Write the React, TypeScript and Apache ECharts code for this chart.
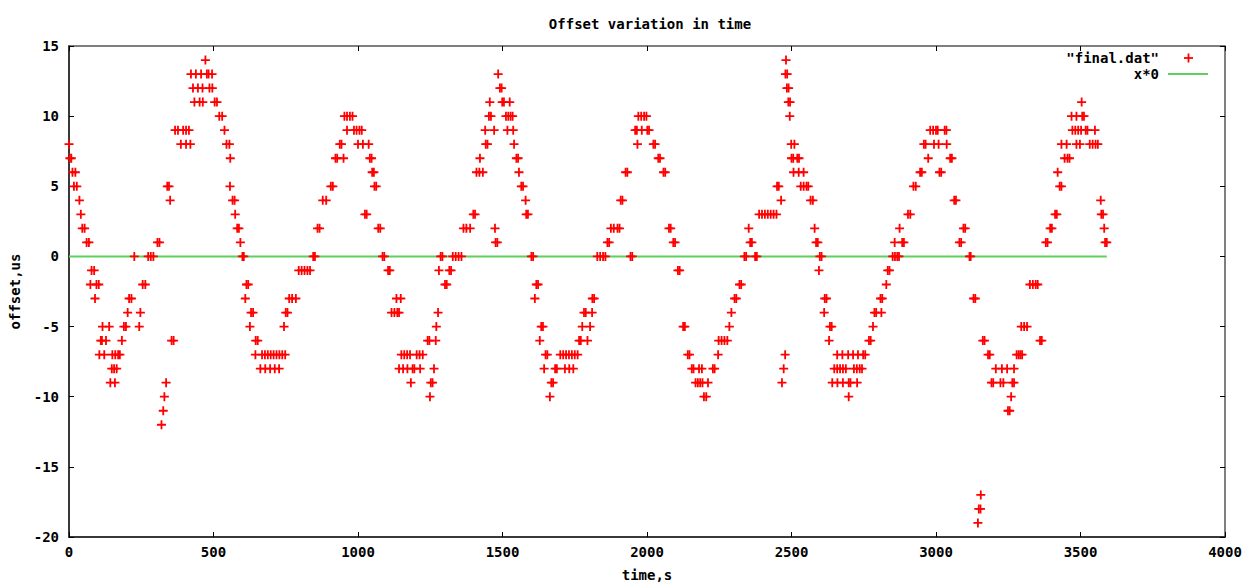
import { useEffect, useRef } from "react";
import * as echarts from "echarts";

type Pt = [number, number];

// "final.dat": [time s, offset us]
const seg0to600: Pt[] = [
  [0, 8], [3, 7], [8, 7], [12, 6], [22, 6], [17, 5], [27, 5], [36, 4], [41, 3], [46, 2], [54, 2], [61, 1], [69, 1],
  [74, -2], [78, -1], [87, -1], [90, -3], [95, -2], [103, -2], [105, -7], [110, -6], [114, -6], [116, -5], [122, -7],
  [128, -6], [139, -5], [143, -9], [148, -8], [150, -7], [156, -8], [159, -9], [160, -7], [165, -8], [170, -7], [176, -7],
  [183, -6], [190, -5], [197, -5], [203, -4], [208, -3], [216, -3], [226, 0], [243, -5], [247, -4], [255, -2], [264, -2],
  [274, 0], [283, 0], [292, 0], [306, 1], [313, 1], [320, -12], [326, -11], [330, -10], [336, -9], [340, 5], [346, 5],
  [350, 4], [355, -6], [362, -6], [367, 9], [377, 9], [395, 9], [405, 9], [415, 9], [387, 8], [405, 8], [420, 8],
  [422, 13], [439, 13], [457, 13], [477, 13], [483, 13], [495, 13], [429, 12], [446, 12], [462, 12], [486, 12], [496, 12],
  [434, 11], [452, 11], [463, 11], [504, 11], [512, 11], [472, 14], [520, 10], [530, 10], [538, 9], [545, 8], [555, 8],
  [558, 7], [557, 5], [566, 4], [573, 4], [575, 3], [582, 2], [588, 2], [593, 1],
];

const seg600to1200: Pt[] = [
  [600, 0], [605, 0], [610, -3], [614, -2], [620, -2], [626, -5], [630, -4], [637, -4], [645, -7], [646, -6], [653, -6],
  [668, -7], [678, -7], [688, -7], [698, -7], [708, -7], [718, -7], [728, -7], [738, -7], [748, -7],
  [662, -8], [679, -8], [696, -8], [712, -8], [727, -8], [744, -5], [750, -4], [756, -4], [762, -3], [772, -3], [785, -3],
  [795, -1], [805, -1], [815, -1], [825, -1], [834, -1], [845, 0], [851, 0], [860, 2], [867, 2], [878, 4], [890, 4],
  [906, 5], [913, 5], [922, 7], [928, 7], [937, 8], [943, 8], [950, 7], [953, 10], [962, 10], [972, 10], [981, 10],
  [962, 9], [986, 9], [995, 9], [1005, 9], [1013, 9], [1000, 8], [1017, 8], [1037, 8], [1024, 3], [1030, 3], [1041, 7],
  [1047, 7], [1049, 6], [1055, 6], [1057, 5], [1063, 5], [1070, 2], [1077, 2], [1085, 0], [1091, 0], [1104, -1], [1110, -1],
  [1116, -4], [1126, -4], [1136, -4], [1142, -4], [1133, -3], [1148, -3], [1142, -8], [1156, -8], [1171, -8],
  [1150, -7], [1160, -7], [1170, -7], [1180, -7], [1183, -9], [1189, -8], [1195, -8],
];

const seg1200to1800: Pt[] = [
  [1203, -7], [1213, -7], [1224, -7], [1215, -8], [1241, -6], [1247, -6], [1249, -10], [1252, -9], [1258, -9], [1263, -8],
  [1269, -6], [1271, -5], [1277, -4], [1280, -1], [1286, 0], [1292, 0], [1301, -2], [1307, -2], [1316, -1], [1322, -1],
  [1328, 0], [1338, 0], [1348, 0], [1358, 0], [1365, 2], [1375, 2], [1388, 2], [1399, 3], [1405, 3], [1410, 6], [1420, 6],
  [1432, 6], [1422, 7], [1440, 9], [1442, 8], [1448, 8], [1453, 10], [1460, 10], [1456, 11], [1471, 9], [1474, 2],
  [1476, 1], [1482, 1], [1485, 13], [1491, 12], [1497, 12], [1499, 11], [1505, 11], [1512, 10], [1520, 10], [1528, 10],
  [1535, 10], [1517, 9], [1537, 9], [1525, 11], [1540, 8], [1548, 7], [1554, 7], [1557, 6], [1565, 5], [1571, 5],
  [1580, 4], [1582, 3], [1588, 3], [1600, 0], [1606, 0], [1612, -3], [1617, -2], [1623, -2], [1629, -6], [1634, -5],
  [1640, -5], [1644, -8], [1649, -7], [1655, -7], [1664, -10], [1669, -9], [1675, -9], [1682, -8], [1688, -8],
  [1700, -7], [1710, -7], [1720, -7], [1730, -7], [1740, -7], [1750, -7], [1760, -7], [1716, -8], [1731, -8], [1745, -8],
  [1765, -6], [1771, -6], [1776, -5], [1782, -4], [1788, -4], [1794, -6], [1803, -5], [1810, -4], [1811, -3], [1817, -3],
];

const seg1800to2400: Pt[] = [
  [1828, 0], [1838, 0], [1848, 0], [1856, 0], [1863, 1], [1869, 1], [1875, 2], [1885, 2], [1898, 2], [1905, 2], [1909, 4],
  [1915, 4], [1926, 6], [1932, 6], [1943, 0], [1949, 0], [1959, 9], [1965, 9], [1967, 8], [1970, 10], [1980, 10],
  [1990, 10], [1998, 10], [1982, 9], [2001, 9], [2007, 9], [2022, 8], [2028, 8], [2039, 7], [2045, 7], [2057, 6],
  [2063, 6], [2076, 2], [2082, 2], [2091, 1], [2097, 1], [2107, -1], [2113, -1], [2125, -5], [2131, -5], [2141, -7],
  [2147, -7], [2155, -8], [2161, -8], [2180, -8], [2190, -8], [2168, -9], [2176, -9], [2184, -9], [2192, -9],
  [2197, -10], [2205, -10], [2211, -9], [2228, -8], [2234, -8], [2246, -7], [2248, -6], [2258, -6], [2268, -6],
  [2278, -6], [2285, -5], [2292, -4], [2303, -3], [2309, -3], [2320, -2], [2326, -2], [2337, 0], [2343, 0], [2352, 2],
  [2357, 1], [2363, 1], [2374, 0], [2380, 0], [2388, 3], [2398, 3],
];

const seg2400to3000: Pt[] = [
  [2408, 3], [2418, 3], [2428, 3], [2438, 3], [2448, 3], [2450, 5], [2456, 5], [2464, 4], [2467, -9], [2473, -8],
  [2478, -7], [2481, 14], [2479, 13], [2485, 13], [2484, 12], [2490, 12], [2489, 11], [2495, 11], [2494, 10], [2499, 8],
  [2510, 8], [2500, 7], [2506, 7], [2520, 7], [2526, 7], [2507, 6], [2525, 6], [2542, 6], [2532, 5], [2542, 5],
  [2552, 5], [2558, 5], [2566, 4], [2574, 4], [2580, 2], [2585, 1], [2591, 1], [2595, -1], [2598, 0], [2604, 0],
  [2613, -4], [2615, -3], [2621, -3], [2630, -6], [2633, -5], [2639, -5], [2641, -9], [2659, -9], [2678, -9],
  [2648, -8], [2658, -8], [2668, -8], [2678, -8], [2688, -8], [2658, -7], [2676, -7], [2696, -7], [2713, -7], [2730, -7],
  [2698, -10], [2698, -9], [2704, -9], [2727, -9], [2716, -8], [2726, -8], [2736, -8], [2744, -8], [2748, -7], [2755, -7],
  [2768, -6], [2774, -6], [2782, -5], [2787, -4], [2793, -4], [2808, -3], [2814, -3], [2811, -4], [2828, -2], [2833, -1],
  [2839, -1], [2850, 0], [2858, 0], [2866, 0], [2872, 0], [2857, 1], [2874, 2], [2883, 1], [2889, 1], [2903, 3],
  [2911, 3], [2922, 5], [2930, 5], [2945, 6], [2951, 6], [2958, 8], [2964, 8], [2973, 7], [2980, 9], [2990, 9],
  [3000, 9], [3006, 9],
];

const seg3000to3600: Pt[] = [
  [2993, 8], [3009, 8], [3037, 8], [3012, 6], [3018, 6], [3030, 9], [3036, 9], [3049, 7], [3055, 7], [3063, 4], [3069, 4],
  [3081, 1], [3087, 1], [3095, 2], [3101, 2], [3116, 0], [3120, 0], [3130, -3], [3136, -3], [3145, -19], [3148, -18],
  [3154, -18], [3155, -17], [3162, -6], [3168, -6], [3180, -7], [3186, -7], [3192, -9], [3198, -9], [3207, -8],
  [3228, -8], [3246, -8], [3270, -8], [3223, -9], [3233, -9], [3249, -11], [3255, -11], [3260, -10], [3264, -9],
  [3270, -9], [3279, -7], [3286, -7], [3292, -7], [3298, -7], [3295, -5], [3305, -5], [3315, -5], [3325, -2], [3335, -2],
  [3345, -2], [3352, -2], [3360, -6], [3366, -6], [3380, 1], [3386, 1], [3395, 2], [3401, 2], [3412, 3], [3418, 3],
  [3421, 6], [3428, 5], [3434, 5], [3434, 8], [3452, 8], [3486, 8], [3498, 8], [3445, 7], [3455, 7], [3462, 7],
  [3469, 10], [3486, 10], [3506, 10], [3512, 10], [3472, 9], [3482, 9], [3492, 9], [3502, 9], [3504, 11], [3518, 9],
  [3524, 9], [3550, 9], [3532, 8], [3542, 8], [3552, 8], [3560, 8], [3570, 4], [3572, 3], [3578, 3], [3582, 2],
  [3585, 1], [3591, 1],
];

const xRange = [0, 4000];
const xStep = 500;
const yRange = [-20, 15];
const yStep = 5;

const TITLE = "Offset variation in time";
const X_NAME = "time,s";
const Y_NAME = "offset,us";
const DATA_NAME = '"final.dat"';
const FUNC_NAME = "x*0";

const FONT = "'DejaVu Sans Mono', 'Liberation Mono', monospace";
const PLUS = "path://M3.6,0H5.4V3.6H9V5.4H5.4V9H3.6V5.4H0V3.6H3.6Z";

export default function App() {
  const ref = useRef<HTMLDivElement>(null);

  useEffect(() => {
    if (!ref.current) return;
    const chart = echarts.init(ref.current, undefined, { renderer: "svg" });
    const points: Pt[] = [
      ...seg0to600,
      ...seg600to1200,
      ...seg1200to1800,
      ...seg1800to2400,
      ...seg2400to3000,
      ...seg3000to3600,
    ];
    const ts = points.map((p) => p[0]);
    const tMin = Math.min(...ts);
    const tMax = Math.max(...ts);

    const txt = { fontFamily: FONT, fontSize: 14, fontWeight: "bold" as const, color: "#000" };
    const tickStyle = { show: true, inside: true, length: 5, lineStyle: { color: "#000", width: 1 } };
    const plain = (v: number) => String(v);

    chart.setOption({
      animation: false,
      backgroundColor: "#fff",
      title: {
        text: TITLE,
        left: 645,
        top: 12,
        textAlign: "center",
        textStyle: { ...txt },
      },
      grid: {
        left: 69,
        right: 22,
        top: 46,
        bottom: 45,
        containLabel: false,
        outerBoundsMode: "none",
        show: true,
        borderColor: "#555",
        borderWidth: 1.5,
      },
      xAxis: [
        {
          type: "value",
          min: xRange[0],
          max: xRange[1],
          interval: xStep,
          position: "bottom",
          name: X_NAME,
          nameLocation: "middle",
          nameGap: 31,
          nameTextStyle: { ...txt },
          axisLine: { show: true, onZero: false, lineStyle: { color: "#222", width: 1.5 } },
          axisTick: tickStyle,
          axisLabel: { ...txt, margin: 8, formatter: plain },
          splitLine: { show: false },
        },
        {
          type: "value",
          min: xRange[0],
          max: xRange[1],
          interval: xStep,
          position: "top",
          axisLine: { show: false, onZero: false },
          axisTick: tickStyle,
          axisLabel: { show: false },
          splitLine: { show: false },
        },
      ],
      yAxis: [
        {
          type: "value",
          min: yRange[0],
          max: yRange[1],
          interval: yStep,
          position: "left",
          name: Y_NAME,
          nameLocation: "middle",
          nameRotate: 90,
          nameGap: 47,
          nameTextStyle: { ...txt },
          axisLine: { show: true, onZero: false, lineStyle: { color: "#222", width: 1.5 } },
          axisTick: tickStyle,
          axisLabel: { ...txt, margin: 10, formatter: plain },
          splitLine: { show: false },
        },
        {
          type: "value",
          min: yRange[0],
          max: yRange[1],
          interval: yStep,
          position: "right",
          axisLine: { show: false, onZero: false },
          axisTick: tickStyle,
          axisLabel: { show: false },
          splitLine: { show: false },
        },
      ],
      series: [
        {
          name: FUNC_NAME,
          type: "line",
          xAxisIndex: 0,
          yAxisIndex: 0,
          data: [
            [tMin, tMin * 0],
            [tMax, tMax * 0],
          ],
          showSymbol: false,
          lineStyle: { color: "#5fcf5f", width: 2 },
          z: 1,
        },
        {
          name: DATA_NAME,
          type: "scatter",
          xAxisIndex: 0,
          yAxisIndex: 0,
          data: points,
          symbol: PLUS,
          symbolSize: 9,
          itemStyle: { color: "#ff0000", opacity: 1 },
          z: 2,
        },
      ],
      graphic: [
        {
          type: "text",
          x: 1159,
          y: 58,
          style: { text: DATA_NAME, fill: "#000", textAlign: "right", textVerticalAlign: "middle", font: `bold 14px ${FONT}` },
        },
        {
          type: "line",
          shape: { x1: 1184, y1: 58, x2: 1193, y2: 58 },
          style: { stroke: "#ff0000", lineWidth: 1.8 },
        },
        {
          type: "line",
          shape: { x1: 1188.5, y1: 53.5, x2: 1188.5, y2: 62.5 },
          style: { stroke: "#ff0000", lineWidth: 1.8 },
        },
        {
          type: "text",
          x: 1159,
          y: 74,
          style: { text: FUNC_NAME, fill: "#000", textAlign: "right", textVerticalAlign: "middle", font: `bold 14px ${FONT}` },
        },
        {
          type: "line",
          shape: { x1: 1168, y1: 74, x2: 1208, y2: 74 },
          style: { stroke: "#5fcf5f", lineWidth: 2 },
        },
      ],
    });
    return () => chart.dispose();
  }, []);

  return (
    <div
      ref={ref}
      style={{ position: "absolute", left: 0, top: 0, width: 1247, height: 582, background: "#fff" }}
    />
  );
}
